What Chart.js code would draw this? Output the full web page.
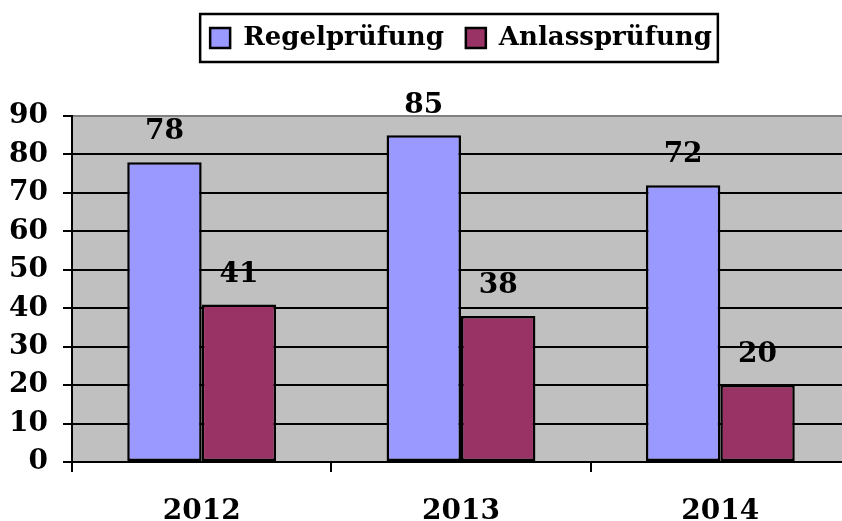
<!DOCTYPE html>
<html>
<head>
<meta charset="utf-8">
<script src="https://cdn.jsdelivr.net/npm/chart.js@4.4.1/dist/chart.umd.min.js"></script>
<style>
    html, body { margin: 0; padding: 0; background: #fff; overflow: hidden; }
    #wrap { width: 850px; height: 521px; }
</style>
</head>
<body>
<div id="wrap"><canvas id="pruefChart"></canvas></div>
<script>
const years = ['2012', '2013', '2014'];
const regelValues = [78, 85, 72];
const anlassValues = [41, 38, 20];
const yTicks = [0, 10, 20, 30, 40, 50, 60, 70, 80, 90];

const fontFamily = '"DejaVu Serif", serif';

// grey plot area
const plotBackground = {
    id: 'plotBackground',
    beforeDraw(chart) {
        const { ctx, chartArea } = chart;
        ctx.save();
        ctx.fillStyle = '#C0C0C0';
        ctx.fillRect(chartArea.left, chartArea.top, chartArea.right - chartArea.left, chartArea.bottom - chartArea.top);
        ctx.restore();
    }
};

// frame around the legend
const legendFrame = {
    id: 'legendFrame',
    afterDraw(chart) {
        const boxes = chart.legend && chart.legend.legendHitBoxes;
        if (!boxes || !boxes.length) return;
        const first = boxes[0];
        const last = boxes[boxes.length - 1];
        const ctx = chart.ctx;
        ctx.save();
        ctx.strokeStyle = '#000';
        ctx.lineWidth = 2.5;
        ctx.strokeRect(first.left - 10, first.top + first.height / 2 - 24, last.left + last.width - first.left + 16, 48);
        ctx.restore();
    }
};

// values above the bars
const barValues = {
    id: 'barValues',
    afterDatasetsDraw(chart) {
        const ctx = chart.ctx;
        ctx.save();
        ctx.font = 'bold 28px ' + fontFamily;
        ctx.fillStyle = '#000';
        ctx.textAlign = 'center';
        ctx.textBaseline = 'middle';
        chart.data.datasets.forEach((ds, i) => {
            chart.getDatasetMeta(i).data.forEach((bar, j) => {
                ctx.fillText(String(ds.data[j]), bar.x, bar.y - 30);
            });
        });
        ctx.restore();
    }
};

new Chart(document.getElementById('pruefChart'), {
    type: 'bar',
    data: {
        labels: years,
        datasets: [{
            label: 'Regelprüfung',
            data: regelValues,
            backgroundColor: '#9999FF',
            borderColor: '#000',
            borderWidth: 2.5,
            borderSkipped: false
        }, {
            label: 'Anlassprüfung',
            data: anlassValues,
            backgroundColor: '#993366',
            borderColor: '#000',
            borderWidth: 2.5,
            borderSkipped: false
        }]
    },
    plugins: [plotBackground, legendFrame, barValues],
    options: {
        responsive: true,
        maintainAspectRatio: false,
        animation: false,
        layout: { padding: { top: 3 } },
        datasets: {
            bar: {
                categoryPercentage: 0.574,
                barPercentage: 1
            }
        },
        plugins: {
            legend: {
                display: true,
                position: 'top',
                fullSize: false,
                labels: {
                    color: '#000',
                    font: { family: fontFamily, size: 26, weight: 'bold' },
                    boxWidth: 20,
                    boxHeight: 20,
                    padding: 22
                }
            },
            title: {
                // spacer between legend and plot
                display: true,
                text: ' ',
                weight: 500,
                fullSize: false,
                font: { size: 10 },
                padding: { top: 22, bottom: 21 }
            },
            tooltip: { enabled: false }
        },
        scales: {
            x: {
                offset: true,
                border: { display: true, color: '#000', width: 2 },
                grid: {
                    display: true,
                    offset: true,
                    drawOnChartArea: false,
                    color: '#000',
                    lineWidth: 2,
                    tickLength: 10
                },
                ticks: {
                    color: '#000',
                    padding: 23,
                    font: { family: fontFamily, size: 28, weight: 'bold' }
                },
                afterFit(scale) { scale.height = 59; }
            },
            y: {
                min: 0,
                max: 90,
                border: { display: true, color: '#000', width: 2 },
                grid: {
                    color: ctx => (ctx.tick && ctx.tick.value === 90) ? '#808080' : '#000',
                    tickColor: '#000',
                    lineWidth: 2,
                    tickLength: 9
                },
                afterBuildTicks(scale) {
                    scale.ticks = yTicks.map(v => ({ value: v }));
                },
                ticks: {
                    color: '#000',
                    padding: 15,
                    font: { family: fontFamily, size: 28, weight: 'bold' }
                },
                afterFit(scale) { scale.width = 72; }
            }
        }
    }
});
</script>
</body>
</html>
